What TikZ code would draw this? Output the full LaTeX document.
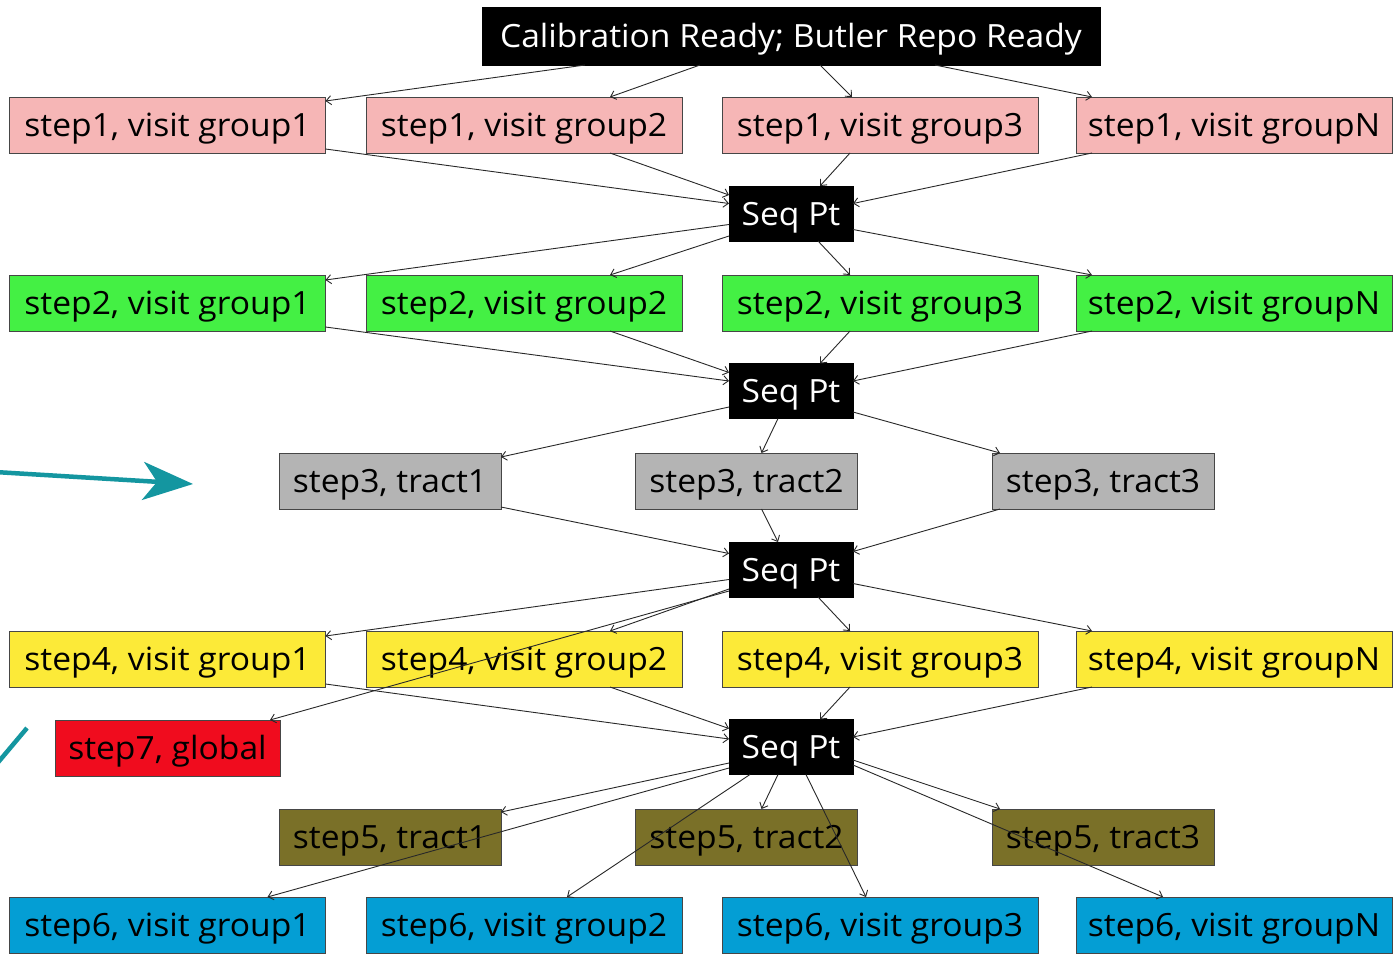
\documentclass[tikz,border=0pt]{standalone}
\usepackage{fontspec}
\setmainfont[FakeStretch=1.05]{Open Sans}
\usetikzlibrary{arrows.meta}
\definecolor{cpink}{RGB}{246,182,182}
\definecolor{cgreen}{RGB}{68,240,68}
\definecolor{cgray}{RGB}{180,180,180}
\definecolor{cyellow}{RGB}{252,234,56}
\definecolor{cred}{RGB}{240,12,30}
\definecolor{colive}{RGB}{122,112,40}
\definecolor{cblue}{RGB}{4,158,212}
\definecolor{cteal}{RGB}{20,150,160}
\definecolor{cborder}{RGB}{70,70,70}
\definecolor{cedge}{RGB}{40,40,40}
\tikzset{
  box/.style={draw=cborder, line width=1pt, minimum height=56pt, inner sep=0pt, outer sep=0pt,
    font=\fontsize{32}{34}\selectfont, text height=23.4pt, text depth=0pt},
  wide/.style={box, minimum width=316pt},
  tract/.style={box, minimum width=222pt},
  seqpt/.style={box, fill=black, text=white, draw=black, minimum width=124pt, minimum height=55pt},
  edge/.style={draw=cedge, line width=0.9pt, -{Straight Barb[length=5pt,width=9pt]}},
  teal/.style={draw=cteal, line width=4.5pt}
}
\begin{document}
\begin{tikzpicture}[x=1pt,y=-1pt]
\path[use as bounding box, clip] (0,0) rectangle (1394,953);
\fill[white] (0,0) rectangle (1394,953);
% top
\node[box, fill=black, text=white, draw=black, minimum width=618pt, minimum height=58pt] (cal) at (791,36) {Calibration Ready; Butler Repo Ready};
% row 1
\node[wide, fill=cpink] (s1a) at (167.5,125) {step1, visit group1};
\node[wide, fill=cpink] (s1b) at (524,125) {step1, visit group2};
\node[wide, fill=cpink] (s1c) at (880,125) {step1, visit group3};
\node[wide, fill=cpink] (s1N) at (1234,125) {step1, visit groupN};
\node[seqpt] (q1) at (791,213.5) {Seq Pt};
% row 2
\node[wide, fill=cgreen] (s2a) at (167.5,303) {step2, visit group1};
\node[wide, fill=cgreen] (s2b) at (524,303) {step2, visit group2};
\node[wide, fill=cgreen] (s2c) at (880,303) {step2, visit group3};
\node[wide, fill=cgreen] (s2N) at (1234,303) {step2, visit groupN};
\node[seqpt] (q2) at (791,391) {Seq Pt};
% row 3
\node[tract, fill=cgray] (t3a) at (390,481) {step3, tract1};
\node[tract, fill=cgray] (t3b) at (746.5,481) {step3, tract2};
\node[tract, fill=cgray] (t3c) at (1103,481) {step3, tract3};
\node[seqpt] (q3) at (791,569.5) {Seq Pt};
% row 4
\node[wide, fill=cyellow] (s4a) at (167.5,659) {step4, visit group1};
\node[wide, fill=cyellow] (s4b) at (524,659) {step4, visit group2};
\node[wide, fill=cyellow] (s4c) at (880,659) {step4, visit group3};
\node[wide, fill=cyellow] (s4N) at (1234,659) {step4, visit groupN};
\node[box, fill=cred, minimum width=225pt] (s7) at (167.5,748) {step7, global};
\node[seqpt] (q4) at (791,747) {Seq Pt};
% row 5
\node[tract, fill=colive] (t5a) at (390,837) {step5, tract1};
\node[tract, fill=colive] (t5b) at (746.5,837) {step5, tract2};
\node[tract, fill=colive] (t5c) at (1103,837) {step5, tract3};
% row 6
\node[wide, fill=cblue] (s6a) at (167.5,925) {step6, visit group1};
\node[wide, fill=cblue] (s6b) at (524,925) {step6, visit group2};
\node[wide, fill=cblue] (s6c) at (880,925) {step6, visit group3};
\node[wide, fill=cblue] (s6N) at (1234,925) {step6, visit groupN};

% edges: cal -> row1
\draw[edge] ([xshift=103pt]cal.south west) -- ([yshift=-4pt]s1a.north east);
\draw[edge] ([xshift=218pt]cal.south west) -- ([xshift=244pt]s1b.north west);
\draw[edge] ([xshift=338pt]cal.south west) -- ([xshift=130pt]s1c.north west);
\draw[edge] ([xshift=453pt]cal.south west) -- ([xshift=16pt]s1N.north west);
% row1 -> q1
\draw[edge] ([yshift=4pt]s1a.south east) -- ([yshift=10pt]q1.west);
\draw[edge] ([xshift=244pt]s1b.south west) -- ([yshift=-9pt]q1.north west);
\draw[edge] ([xshift=128pt]s1c.south west) -- ([xshift=91pt]q1.north west);
\draw[edge] ([xshift=16pt]s1N.south west) -- ([yshift=10pt]q1.east);
% q1 -> row2
\draw[edge] ([yshift=-11pt]q1.west) -- ([yshift=-5pt]s2a.north east);
\draw[edge] ([yshift=5pt]q1.south west) -- ([xshift=244pt]s2b.north west);
\draw[edge] ([xshift=89pt]q1.south west) -- ([xshift=128pt]s2c.north west);
\draw[edge] ([yshift=-16pt]q1.east) -- ([xshift=16pt]s2N.north west);
% row2 -> q2
\draw[edge] ([yshift=4pt]s2a.south east) -- ([yshift=10pt]q2.west);
\draw[edge] ([xshift=244pt]s2b.south west) -- ([yshift=-9pt]q2.north west);
\draw[edge] ([xshift=128pt]s2c.south west) -- ([xshift=91pt]q2.north west);
\draw[edge] ([xshift=16pt]s2N.south west) -- ([yshift=10pt]q2.east);
% q2 -> row3
\draw[edge] ([yshift=-16pt]q2.west) -- ([yshift=-4pt]t3a.north east);
\draw[edge] ([xshift=49pt]q2.south west) -- ([xshift=126pt]t3b.north west);
\draw[edge] ([yshift=-21pt]q2.east) -- ([xshift=8pt]t3c.north west);
% row3 -> q3
\draw[edge] ([yshift=2pt]t3a.south east) -- ([yshift=16pt]q3.west);
\draw[edge] ([xshift=126pt]t3b.south west) -- ([xshift=49pt]q3.north west);
\draw[edge] ([xshift=8pt]t3c.south west) -- ([yshift=18pt]q3.east);
% q3 -> row4 and step7
\draw[edge] ([yshift=-10pt]q3.west) -- ([yshift=-5pt]s4a.north east);
\draw[edge] ([yshift=8pt]q3.south west) -- ([xshift=244pt]s4b.north west);
\draw[edge] ([yshift=6pt]q3.south west) -- ([xshift=-10pt]s7.north east);
\draw[edge] ([xshift=89pt]q3.south west) -- ([xshift=128pt]s4c.north west);
\draw[edge] ([yshift=-14pt]q3.east) -- ([xshift=16pt]s4N.north west);
% row4 -> q4
\draw[edge] ([yshift=3pt]s4a.south east) -- ([yshift=8pt]q4.west);
\draw[edge] ([xshift=244pt]s4b.south west) -- ([yshift=-9pt]q4.north west);
\draw[edge] ([xshift=128pt]s4c.south west) -- ([xshift=91pt]q4.north west);
\draw[edge] ([xshift=16pt]s4N.south west) -- ([yshift=10pt]q4.east);
% q4 -> row5 / row6
\draw[edge] ([yshift=-16pt]q4.west) -- ([yshift=-3pt]t5a.north east);
\draw[edge] ([yshift=-21pt]q4.west) -- ([xshift=258pt]s6a.north west);
\draw[edge] ([xshift=49pt]q4.south west) -- ([xshift=126pt]t5b.north west);
\draw[edge] ([xshift=21pt]q4.south west) -- ([xshift=201pt]s6b.north west);
\draw[edge] ([xshift=77pt]q4.south west) -- ([xshift=144pt]s6c.north west);
\draw[edge] ([yshift=-13pt]q4.east) -- ([xshift=8pt]t5c.north west);
\draw[edge] ([yshift=-18pt]q4.east) -- ([xshift=87pt]s6N.north west);

% teal arrows
\coordinate (ta1) at (-5,472);
\coordinate (ta2) at (193,484);
\draw[teal, -{Stealth[length=50pt,width=38pt,inset=14pt]}] (ta1) -- (ta2);
\coordinate (tb1) at (-5,766);
\coordinate (tb2) at (27,728);
\draw[teal] (tb1) -- (tb2);
\end{tikzpicture}
\end{document}
